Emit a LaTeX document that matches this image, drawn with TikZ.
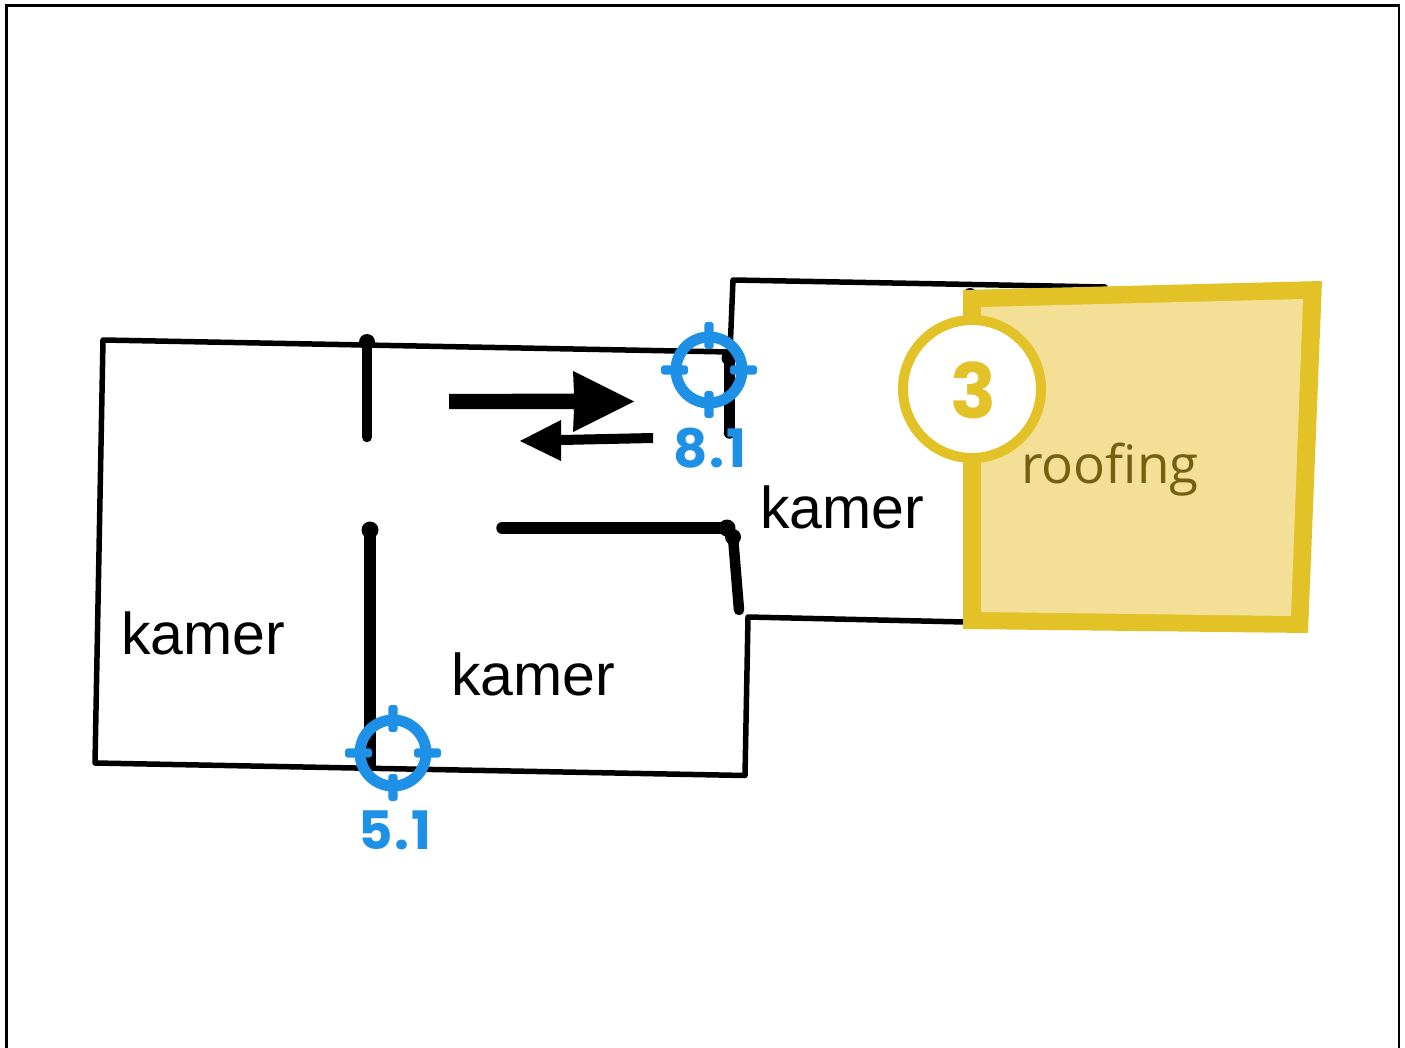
\documentclass[tikz,border=0pt]{standalone}
\usepackage{fontspec}
\setmainfont{Liberation Sans}
\newfontfamily\roofont{Open Sans}
\newfontfamily\numfont{Poppins}
\newfontfamily\spacednum[LetterSpace=4]{Poppins}
\definecolor{tblue}{HTML}{1E90E6}
\definecolor{ygold}{HTML}{E3C228}
\definecolor{ypale}{HTML}{F3E096}
\definecolor{ytext}{HTML}{756012}
\tikzset{
  frameline/.style={draw=black,line width=2.6pt},
  thinwall/.style={draw=black,line width=5.5pt,line join=round,line cap=round},
  thickwall/.style={draw=black,line width=11.5pt,line cap=round},
  walldot/.style={fill=black},
  roomlabel/.style={font=\fontsize{59}{59}\selectfont,anchor=base west,inner sep=0pt,text=black},
  targetnum/.style={font=\spacednum\bfseries\fontsize{53}{53}\selectfont,text=tblue,inner sep=0pt},
  ring/.style={draw=tblue,line width=11pt},
  tick/.style={fill=tblue,rounded corners=3pt}
}
\newcommand{\targetmark}[2]{%
  \draw[ring] (#1,#2) circle[radius=33];
  \fill[tick] (#1-4.7,#2-48) rectangle (#1+4.7,#2-21);
  \fill[tick] (#1-4.7,#2+48) rectangle (#1+4.7,#2+21);
  \fill[tick] (#1-48,#2-4.7) rectangle (#1-21,#2+4.7);
  \fill[tick] (#1+48,#2-4.7) rectangle (#1+21,#2+4.7);
}
\begin{document}
\begin{tikzpicture}[x=1pt,y=-1pt]
\useasboundingbox (0,0) rectangle (1405,1048);
% page frame, open at the bottom
\draw[frameline] (6.5,1048) -- (6.5,5.5) -- (1399,5.5) -- (1399,1048);
% outline walls
\draw[thinwall] (730,352) -- (103,340) -- (95,763) -- (745,775.5) -- (748,617) -- (965,622);
\draw[thinwall] (730,352) -- (733,280) -- (1105,287);
\draw[draw=black,line width=3pt] (964,295) -- (964,620);
\fill[walldot] (970,295) circle[radius=7];
% thick inner walls
\draw[thickwall,line width=10.5pt] (367,342) -- (367,437);
\fill[walldot] (367,342) circle[radius=8];
\draw[thickwall,line cap=butt] (370,530) -- (370,767);
\fill[walldot] (370,530) circle[radius=8.5];
\draw[thickwall] (502,528) -- (727,528);
\fill[walldot] (727,528) circle[radius=8.5];
\draw[thickwall,line width=10.5pt] (733,537) -- (739,610);
\fill[walldot] (733,537) circle[radius=8];
\draw[thickwall,line cap=butt] (729.5,355) -- (729.5,433);
\fill[walldot] (729.5,433) circle[radius=5.7];
\fill[walldot] (729,358) circle[radius=7.5];
% arrows
\fill[black] (449,394) -- (574,393.5) -- (573,371) -- (634,401.5) -- (573,432) -- (574,409) -- (449,409) -- cycle;
\fill[black] (653,433) -- (561,435) -- (561,420) -- (520,441) -- (561,461) -- (561,445) -- (653,443) -- cycle;
% roofing area
\fill[ygold] (963,290) -- (1322,281) -- (1308,633) -- (963,629) -- cycle;
\fill[ypale] (981,307) -- (1303,299) -- (1291,616) -- (981,612) -- cycle;
\node[font=\roofont\fontsize{53}{53}\selectfont,text=ytext,anchor=base west,inner sep=0pt] (roofing) at (1021,483) {roofing};
% numbered circle
\draw[draw=ygold,fill=white,line width=10pt] (972,389) circle[radius=69];
\node[font=\numfont\bfseries\fontsize{76}{76}\selectfont,text=ygold,inner sep=0pt] (three) at (973,390) {3};
% room labels
\node[roomlabel] (kamerA) at (121,654) {kamer};
\node[roomlabel] (kamerB) at (451,695) {kamer};
\node[roomlabel] (kamerC) at (760,528) {kamer};
% targets
\targetmark{709}{370}
\targetmark{393}{753}
\node[targetnum] (labelA) at (710,448) {8.1};
\node[targetnum] (labelB) at (395,830) {5.1};
\end{tikzpicture}
\end{document}
